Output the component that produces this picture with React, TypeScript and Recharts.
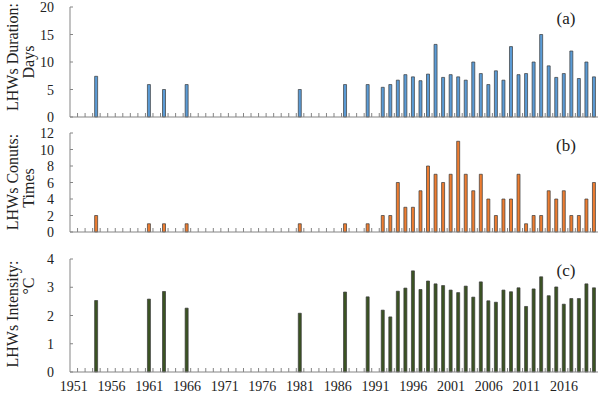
import { Bar, BarChart, XAxis, YAxis } from "recharts";

// category axis: one band per year
const years = Array.from({ length: 70 }, (_, i) => 1951 + i);

const eventYears = [
  1954, 1961, 1963, 1966, 1981, 1987, 1990, 1992, 1993, 1994, 1995, 1996, 1997, 1998, 1999, 2000, 2001, 2002,
  2003, 2004, 2005, 2006, 2007, 2008, 2009, 2010, 2011, 2012, 2013, 2014, 2015, 2016, 2017, 2018, 2019, 2020,
];
const durationDays = [
  7.4, 5.9, 5.0, 5.9, 5.0, 5.9, 5.9, 5.4, 5.9, 6.7, 7.7, 7.3, 6.6, 7.8, 13.2, 7.2, 7.7, 7.3, 6.7, 10.0, 7.9, 5.9,
  8.4, 6.7, 12.8, 7.7, 7.9, 10.0, 15.0, 9.3, 7.2, 7.9, 12.0, 7.0, 10.0, 7.3,
];
const countTimes = [2, 1, 1, 1, 1, 1, 1, 2, 2, 6, 3, 3, 5, 8, 7, 6, 7, 11, 7, 5, 7, 4, 2, 4, 4, 7, 1, 2, 2, 5, 4, 5, 2, 2, 4, 6];
const intensityC = [
  2.53, 2.58, 2.85, 2.26, 2.08, 2.83, 2.66, 2.19, 1.95, 2.86, 2.97, 3.58, 2.92, 3.22, 3.12, 3.06, 2.9, 2.81, 3.04,
  2.65, 3.19, 2.52, 2.47, 2.9, 2.84, 2.98, 2.32, 2.94, 3.37, 2.7, 3.01, 2.4, 2.6, 2.6, 3.12, 2.98,
];

const data = years.map((year) => {
  const i = eventYears.indexOf(year);
  return {
    year,
    dur: i >= 0 ? durationDays[i] : null,
    cnt: i >= 0 ? countTimes[i] : null,
    inten: i >= 0 ? intensityC[i] : null,
  };
});

const W = 602;
const LEFT = 70;
const RIGHT = 4;
const BAND = (W - LEFT - RIGHT) / years.length;
const AXIS = "#858585";
const FONT = "'Liberation Serif', 'Times New Roman', serif";

function makeXTick(showLabels: boolean) {
  return (p: any) => {
    const year = p.payload.value as number;
    const bx = p.x - BAND / 2;
    return (
      <g>
        {year !== years[0] && <line x1={bx} x2={bx} y1={p.y} y2={p.y - 4} stroke={AXIS} strokeWidth={1} />}
        {showLabels && (year - years[0]) % 5 === 0 && (
          <text x={p.x} y={p.y + 19} textAnchor="middle" fontFamily={FONT} fontSize={14} fill="#222">
            {year}
          </text>
        )}
      </g>
    );
  };
}

function yTick(p: any) {
  return (
    <g>
      <line x1={p.x} x2={p.x + 3} y1={p.y} y2={p.y} stroke={AXIS} strokeWidth={1} />
      <text x={p.x - 16} y={p.y + 5} textAnchor="end" fontFamily={FONT} fontSize={14} fill="#222">
        {p.payload.value}
      </text>
    </g>
  );
}

type PanelProps = {
  top: number;
  height: number;
  mTop: number;
  mBottom: number;
  xHeight: number;
  dataKey: string;
  fill: string;
  domain: [number, number];
  ticks: number[];
  title: [string, string];
  titleY: number;
  title2Y: number;
  tag: string;
  tagY: number;
  showLabels: boolean;
};

function Panel(props: PanelProps) {
  const { top, height, mTop, mBottom, xHeight, dataKey, fill, domain, ticks, title, titleY, title2Y, tag, tagY, showLabels } = props;
  return (
    <div style={{ position: "absolute", left: 0, top }}>
      <BarChart width={W} height={height} data={data} margin={{ top: mTop, right: RIGHT, bottom: mBottom, left: 0 }}>
        <XAxis
          dataKey="year"
          interval={0}
          height={xHeight}
          tickSize={0}
          tickMargin={0}
          tickLine={false}
          tick={makeXTick(showLabels)}
          stroke={AXIS}
        />
        <XAxis xAxisId="top" orientation="top" dataKey="year" height={0} tick={false} tickLine={false} stroke={AXIS} />
        <YAxis
          width={LEFT}
          domain={domain}
          ticks={ticks}
          interval={0}
          tickSize={0}
          tickMargin={0}
          tickLine={false}
          tick={yTick}
          stroke={AXIS}
          label={{
            content: () => (
              <g fontFamily={FONT} fill="#222" fontSize={16}>
                <text transform={`translate(18, ${titleY}) rotate(-90)`} textAnchor="middle">
                  {title[0]}
                </text>
                <text transform={`translate(34, ${title2Y}) rotate(-90)`} textAnchor="middle">
                  {title[1]}
                </text>
                <text x={566} y={tagY} textAnchor="middle" fontSize={17}>
                  {tag}
                </text>
              </g>
            ),
          }}
        />
        <YAxis yAxisId="right" orientation="right" width={0} tick={false} tickLine={false} stroke={AXIS} />
        <Bar dataKey={dataKey} fill={fill} stroke="#3a3a3a" strokeWidth={0.7} barSize={3} isAnimationActive={false} />
      </BarChart>
    </div>
  );
}

export default function App() {
  return (
    <div style={{ position: "absolute", left: 0, top: 0, width: W, height: 393, background: "#fff" }}>
      <Panel
        top={0}
        height={125}
        mTop={7}
        mBottom={6}
        xHeight={2}
        dataKey="dur"
        fill="#5B9BD5"
        domain={[0, 20]}
        ticks={[0, 5, 10, 15, 20]}
        title={["LHWs Duration:", "Days"]}
        titleY={57}
        title2Y={62}
        tag="(a)"
        tagY={24}
        showLabels={false}
      />
      <Panel
        top={125}
        height={120}
        mTop={8}
        mBottom={11}
        xHeight={2}
        dataKey="cnt"
        fill="#ED7D31"
        domain={[0, 12]}
        ticks={[0, 2, 4, 6, 8, 10, 12]}
        title={["LHWs Conuts:", "Times"]}
        titleY={57}
        title2Y={63}
        tag="(b)"
        tagY={26}
        showLabels={false}
      />
      <Panel
        top={245}
        height={148}
        mTop={14}
        mBottom={0}
        xHeight={21}
        dataKey="inten"
        fill="#3B5323"
        domain={[0, 4]}
        ticks={[0, 1, 2, 3, 4]}
        title={["LHWs Intensity:", "°C"]}
        titleY={69}
        title2Y={41}
        tag="(c)"
        tagY={31}
        showLabels
      />
    </div>
  );
}
